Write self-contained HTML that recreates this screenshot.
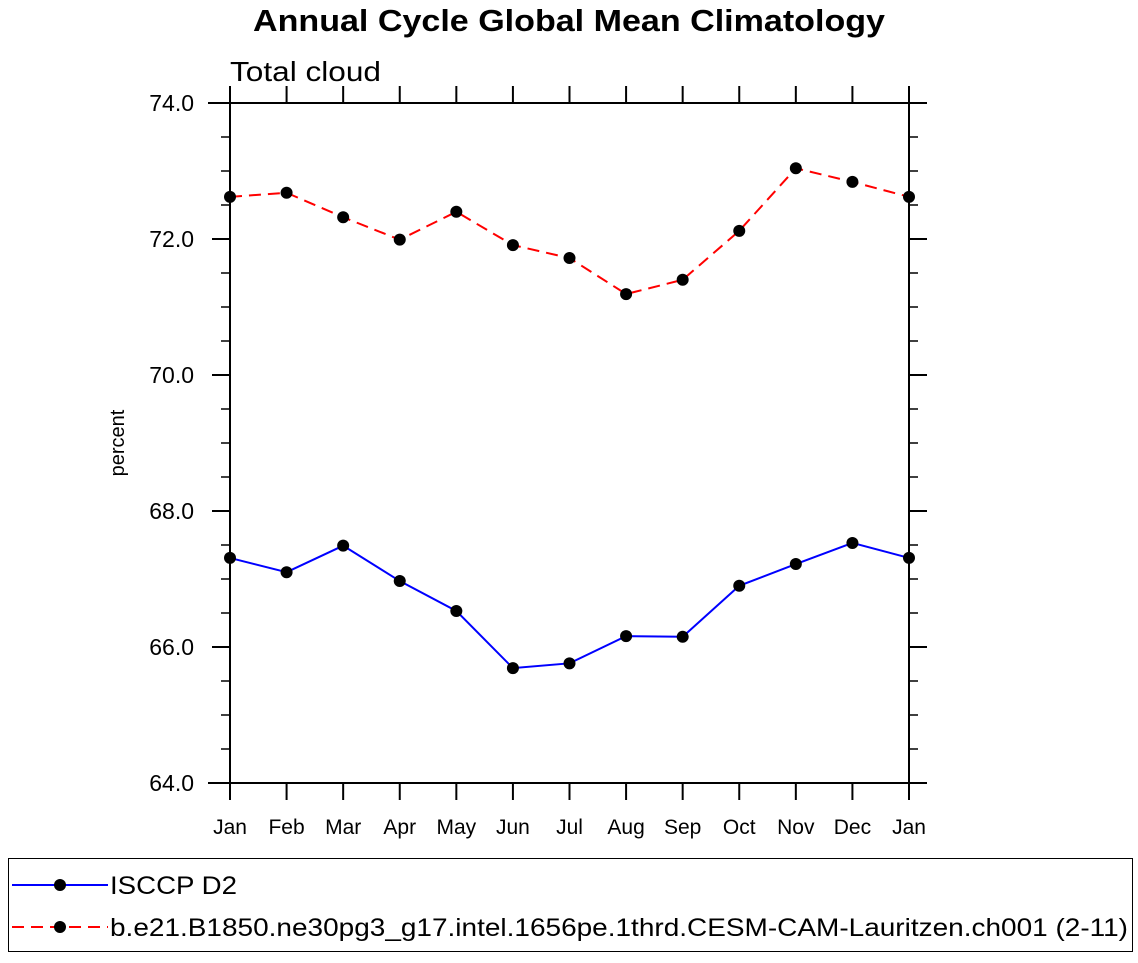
<!DOCTYPE html>
<html><head><meta charset="utf-8"><style>
body{margin:0;background:#fff;}
svg text{font-family:"Liberation Sans",Arial,sans-serif;}
</style></head><body>
<svg id="chart" width="1138" height="958" xmlns="http://www.w3.org/2000/svg">
<text x="253" y="31" font-size="31" font-weight="bold" textLength="632" lengthAdjust="spacingAndGlyphs">Annual Cycle Global Mean Climatology</text>
<text x="230" y="81" font-size="28" textLength="151" lengthAdjust="spacingAndGlyphs">Total cloud</text>
<text transform="translate(124,443) rotate(-90)" font-size="20" text-anchor="middle">percent</text>
<g id="axes"></g>
<g id="series"></g>
<g>
<rect x="8.5" y="858.5" width="1124" height="93" fill="none" stroke="#000" stroke-width="1"/>
<g>
<line x1="12" y1="885" x2="108" y2="885" stroke="#0000ff" stroke-width="2"/>
<circle cx="60" cy="885" r="6" fill="#000"/>
<text x="110" y="894" font-size="25" textLength="127" lengthAdjust="spacingAndGlyphs">ISCCP D2</text>
</g>
<g>
<line x1="12" y1="927" x2="108" y2="927" stroke="#ff0000" stroke-width="2" stroke-dasharray="12,7"/>
<circle cx="60" cy="927" r="6" fill="#000"/>
<text x="110" y="936" font-size="25" textLength="1018" lengthAdjust="spacingAndGlyphs">b.e21.B1850.ne30pg3_g17.intel.1656pe.1thrd.CESM-CAM-Lauritzen.ch001 (2-11)</text>
</g>
</g>
</svg>
<script>
const months=["Jan","Feb","Mar","Apr","May","Jun","Jul","Aug","Sep","Oct","Nov","Dec","Jan"];
const isccp=[67.31,67.10,67.49,66.97,66.53,65.69,65.76,66.16,66.15,66.90,67.22,67.53,67.31];
const cesm=[72.62,72.68,72.32,71.99,72.40,71.91,71.72,71.19,71.40,72.12,73.04,72.84,72.62];
const yTicks=[64,66,68,70,72,74];
const yTickLabels=["64.0","66.0","68.0","70.0","72.0","74.0"];
const NS="http://www.w3.org/2000/svg";
const L=230,R=909,T=103,B=783,YMIN=64,YMAX=74;
const xs=i=>L+(R-L)*i/(months.length-1);
const ys=v=>B-(v-YMIN)/(YMAX-YMIN)*(B-T);
function mk(p,tag,a){const e=document.createElementNS(NS,tag);for(const k in a)e.setAttribute(k,a[k]);p.appendChild(e);return e;}
const ax=document.getElementById('axes');
let e;
e=mk(ax,'line',{x1:208,y1:T,x2:927,y2:T,stroke:'#000','stroke-width':2});


e=mk(ax,'line',{x1:208,y1:B,x2:927,y2:B,stroke:'#000','stroke-width':2});


e=mk(ax,'line',{x1:L,y1:86,x2:L,y2:800,stroke:'#000','stroke-width':2});


e=mk(ax,'line',{x1:R,y1:86,x2:R,y2:800,stroke:'#000','stroke-width':2});


months.forEach((m,i)=>{const x=xs(i);
mk(ax,'line',{x1:x,y1:86,x2:x,y2:T,stroke:'#000','stroke-width':2});
mk(ax,'line',{x1:x,y1:B,x2:x,y2:800,stroke:'#000','stroke-width':2});
const t=mk(ax,'text',{x:x,y:834,'font-size':21,'text-anchor':'middle'});t.textContent=m;


});
for(let v=YMIN;v<=YMAX+1e-9;v+=0.5){const y=ys(v);
mk(ax,'line',{x1:L-9,y1:y,x2:L,y2:y,stroke:'#000','stroke-width':1.5});
mk(ax,'line',{x1:R,y1:y,x2:R+9,y2:y,stroke:'#000','stroke-width':1.5});}
yTicks.forEach((v,i)=>{const y=ys(v);
mk(ax,'line',{x1:L-18,y1:y,x2:L,y2:y,stroke:'#000','stroke-width':2});
mk(ax,'line',{x1:R,y1:y,x2:R+18,y2:y,stroke:'#000','stroke-width':2});
const t=mk(ax,'text',{x:194,y:y+8,'font-size':23,'text-anchor':'end'});t.textContent=yTickLabels[i];


});
const sg=document.getElementById('series');
function series(vals,color,dash,name){
const pts=vals.map((v,i)=>xs(i)+','+ys(v)).join(' ');
const pl=mk(sg,'polyline',{points:pts,fill:'none',stroke:color,'stroke-width':2,'stroke-dasharray':dash});


vals.forEach((v,i)=>{const c=mk(sg,'circle',{cx:xs(i),cy:ys(v),r:6,fill:'#000'});

});
}
series(isccp,'#0000ff','none','isccp');
series(cesm,'#ff0000','12,7','cesm');
</script>
</body></html>
